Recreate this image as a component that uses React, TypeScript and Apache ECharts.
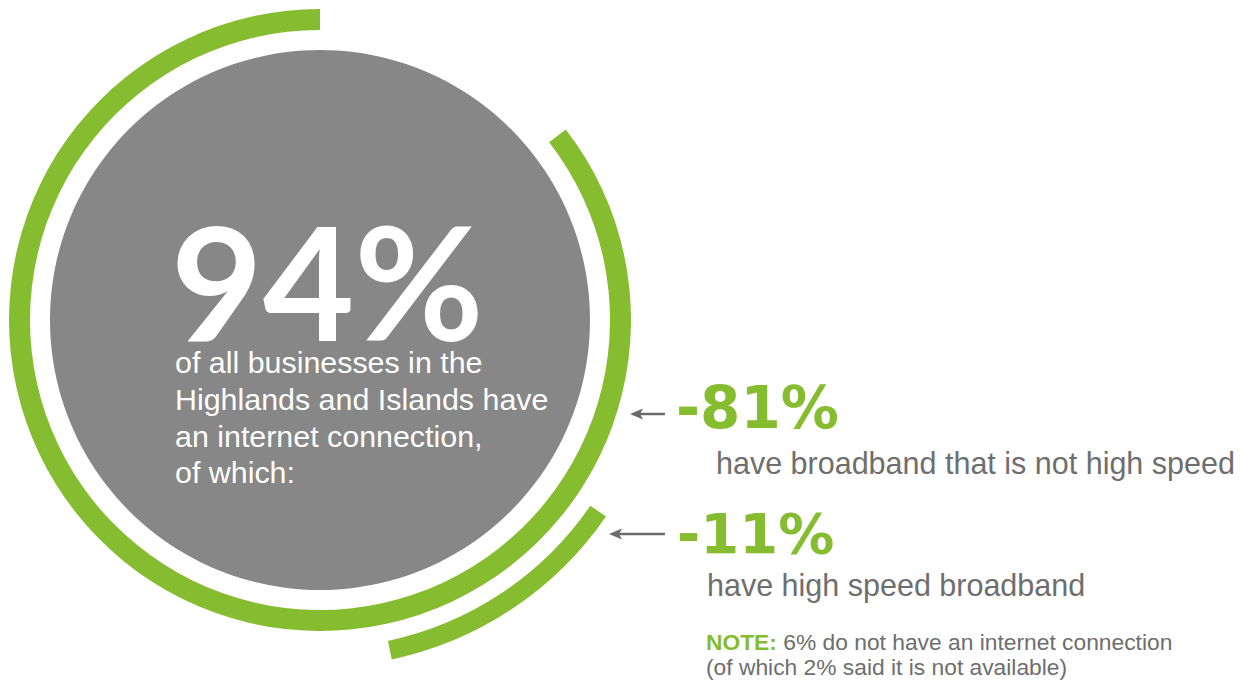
import React, { useEffect, useRef } from "react";
import * as echarts from "echarts";

// ---- data ----
const headlineValue = "94%";
const headlineLines = [
  "of all businesses in the",
  "Highlands and Islands have",
  "an internet connection,",
  "of which:",
];
const breakdownLabels = ["-81%", "-11%"];
const breakdownCaptions = [
  "have broadband that is not high speed",
  "have high speed broadband",
];
// share of a full turn that each green arc sweeps, as drawn
const arcShares = [85.5, 12.1];
const noteLabel = "NOTE:";
const noteLines = [
  "6% do not have an internet connection",
  "(of which 2% said it is not available)",
];

const GREEN = "#86bc2f";
const GREY = "#878787";
const TEXT_GREY = "#6e6e6e";
const ARROW_GREY = "#6b6b6b";
const SANS = '"Liberation Sans", Arial, Helvetica, sans-serif';

function arrow(x1: number, x2: number, y: number) {
  return [
    {
      type: "line",
      z: 10,
      shape: { x1: x1 + 8, y1: y, x2: x2, y2: y },
      style: { stroke: ARROW_GREY, lineWidth: 2.5 },
    },
    {
      type: "polygon",
      z: 10,
      shape: {
        points: [
          [x1, y],
          [x1 + 13, y - 5.5],
          [x1 + 10, y],
          [x1 + 13, y + 5.5],
        ],
      },
      style: { fill: ARROW_GREY },
    },
  ];
}

export default function App() {
  const ref = useRef<HTMLDivElement>(null);
  useEffect(() => {
    if (!ref.current) return;
    const chart = echarts.init(ref.current, undefined, { renderer: "svg" });
    const cx = 320;
    const cy = 320;
    const bodyBase = [362, 399, 436, 472];
    const graphic: any[] = [
      {
        type: "text",
        z: 10,
        x: 171,
        y: 280,
        style: {
          text: headlineValue,
          fill: "#ffffff",
          font: 'bold 158px Lato, "Open Sans", sans-serif',
          textAlign: "left",
          textVerticalAlign: "middle",
        },
      },
      ...headlineLines.map((t, i) => ({
        type: "text",
        z: 10,
        x: 175,
        y: bodyBase[i],
        style: {
          text: t,
          fill: "#ffffff",
          font: `30.4px ${SANS}`,
          textAlign: "left",
          textVerticalAlign: "middle",
        },
      })),
      {
        type: "text",
        z: 10,
        x: 676,
        y: 408,
        style: {
          text: breakdownLabels[0],
          fill: GREEN,
          font: 'bold 58px "DejaVu Sans", sans-serif',
          textAlign: "left",
          textVerticalAlign: "middle",
        },
      },
      {
        type: "text",
        z: 10,
        x: 716,
        y: 463,
        style: {
          text: breakdownCaptions[0],
          fill: TEXT_GREY,
          font: `30.5px ${SANS}`,
          textAlign: "left",
          textVerticalAlign: "middle",
        },
      },
      {
        type: "text",
        z: 10,
        x: 677,
        y: 533,
        style: {
          text: breakdownLabels[1],
          fill: GREEN,
          font: 'bold 56px "DejaVu Sans", sans-serif',
          textAlign: "left",
          textVerticalAlign: "middle",
        },
      },
      {
        type: "text",
        z: 10,
        x: 707,
        y: 585,
        style: {
          text: breakdownCaptions[1],
          fill: TEXT_GREY,
          font: `30.5px ${SANS}`,
          textAlign: "left",
          textVerticalAlign: "middle",
        },
      },
      {
        type: "text",
        z: 10,
        x: 706,
        y: 642,
        style: {
          text: `{n|${noteLabel}} ${noteLines[0]}`,
          fill: TEXT_GREY,
          font: `22.8px ${SANS}`,
          textAlign: "left",
          textVerticalAlign: "middle",
          rich: {
            n: {
              fill: GREEN,
              fontWeight: "bold",
              fontSize: 22.8,
              fontFamily: SANS,
            },
          },
        },
      },
      {
        type: "text",
        z: 10,
        x: 706,
        y: 667,
        style: {
          text: noteLines[1],
          fill: TEXT_GREY,
          font: `22.8px ${SANS}`,
          textAlign: "left",
          textVerticalAlign: "middle",
        },
      },
      ...arrow(630, 665, 414),
      ...arrow(609, 665, 534),
    ];

    const hidden = { color: "rgba(0,0,0,0)" };
    const common = {
      type: "pie",
      silent: true,
      center: [cx, cy],
      label: { show: false },
      labelLine: { show: false },
      emphasis: { disabled: true },
      itemStyle: { borderWidth: 0 },
    };

    chart.setOption({
      animation: false,
      graphic,
      series: [
        {
          ...common,
          radius: [0, 270],
          data: [{ value: 94, name: "connected", itemStyle: { color: GREY } }],
        },
        {
          ...common,
          radius: [290, 311],
          startAngle: 90,
          clockwise: false,
          data: [
            { value: arcShares[0], name: breakdownLabels[0], itemStyle: { color: GREEN } },
            { value: 100 - arcShares[0], name: "gap1", itemStyle: hidden },
          ],
        },
        {
          ...common,
          radius: [328, 347],
          startAngle: 325.5,
          clockwise: true,
          data: [
            { value: arcShares[1], name: breakdownLabels[1], itemStyle: { color: GREEN } },
            { value: 100 - arcShares[1], name: "gap2", itemStyle: hidden },
          ],
        },
      ],
    });
    return () => chart.dispose();
  }, []);

  return (
    <div
      ref={ref}
      style={{ position: "absolute", left: 0, top: 0, width: 1240, height: 682, background: "#ffffff" }}
    />
  );
}
